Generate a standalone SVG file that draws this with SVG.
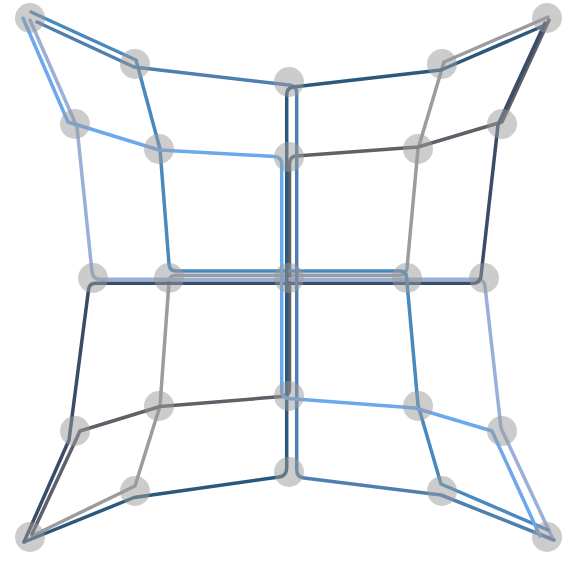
<svg xmlns="http://www.w3.org/2000/svg" width="563" height="561" viewBox="0 0 563 561">
<style>
.ln{fill:none;stroke-width:3.5;stroke-linejoin:round;stroke-linecap:round}
.nd{fill:#999;fill-opacity:0.5}
</style>
<rect width="563" height="561" fill="#fff"/>
<g id="connectors">
<path class="ln" stroke="#9a9ca1" d="M548,17 L444,62 L418,149 L407,268 Q406,275.3 399,275.3 L176,275.3 Q169.5,275.3 169,282 L160,406 L135,486 L32,536"/>
<path class="ln" stroke="#5f6068" d="M549,20 L502,122 L418,147 L296,156 Q290,156.5 289.5,163 L289.5,389 Q289.5,396 282,396.5 L160,406.5 L80,431 L32,534"/>
<path class="ln" stroke="#9ab0da" d="M30,20 L77,127 L92,272 Q93,279.3 100,279.3 L477,279.3 Q484,279.3 485,286 L501,428 L552,537"/>
<path class="ln" stroke="#394c68" d="M545,23 L498,125 L481,276 Q480,283.3 473,283.3 L96,283.3 Q89,283.3 88.5,290 L69,440 L24,542"/>
<path class="ln" stroke="#4889be" d="M31,12 L136,60 L160,149 L169,264 Q169.5,271 176,271 L400,271 Q406,271 406.5,277 L418,405 L441,484 L548,530"/>
<path class="ln" stroke="#4f7fb1" d="M37,22 L134,67 L289,85 Q296.7,86 296.7,93 L296.7,470 Q296.7,477 304,478 L441,495 L554,540"/>
<path class="ln" stroke="#2b587b" d="M543,26 L441,70 L293,87 Q286.7,88 286.7,95 L286.7,468 Q286.7,476 279,477 L134,497.5 L24,542"/>
<path class="ln" stroke="#6ca8ec" d="M23,18 L68,122 L159,150 L274,156.5 Q281.7,157 281.7,164 L281.7,391 Q281.7,398 289,398.5 L415,408 L492,431 L540,536"/>
</g>
<g id="n00"><circle class="nd" cx="30" cy="18" r="15"/></g>
<g id="n01"><circle class="nd" cx="135" cy="64" r="15"/></g>
<g id="n02"><circle class="nd" cx="289" cy="82" r="15"/></g>
<g id="n03"><circle class="nd" cx="442" cy="64" r="15"/></g>
<g id="n04"><circle class="nd" cx="547" cy="18" r="15"/></g>
<g id="n10"><circle class="nd" cx="75" cy="124" r="15"/></g>
<g id="n11"><circle class="nd" cx="159" cy="149" r="15"/></g>
<g id="n12"><circle class="nd" cx="289" cy="157" r="15"/></g>
<g id="n13"><circle class="nd" cx="418" cy="149" r="15"/></g>
<g id="n14"><circle class="nd" cx="502" cy="124" r="15"/></g>
<g id="n20"><circle class="nd" cx="93" cy="278" r="15"/></g>
<g id="n21"><circle class="nd" cx="169" cy="278" r="15"/></g>
<g id="n22"><circle class="nd" cx="289" cy="278" r="15"/></g>
<g id="n23"><circle class="nd" cx="407" cy="278" r="15"/></g>
<g id="n24"><circle class="nd" cx="484" cy="278" r="15"/></g>
<g id="n30"><circle class="nd" cx="75" cy="431" r="15"/></g>
<g id="n31"><circle class="nd" cx="159" cy="406" r="15"/></g>
<g id="n32"><circle class="nd" cx="289" cy="396" r="15"/></g>
<g id="n33"><circle class="nd" cx="418" cy="406" r="15"/></g>
<g id="n34"><circle class="nd" cx="502" cy="431" r="15"/></g>
<g id="n40"><circle class="nd" cx="30" cy="537" r="15"/></g>
<g id="n41"><circle class="nd" cx="135" cy="491" r="15"/></g>
<g id="n42"><circle class="nd" cx="289" cy="472" r="15"/></g>
<g id="n43"><circle class="nd" cx="442" cy="491" r="15"/></g>
<g id="n44"><circle class="nd" cx="547" cy="537" r="15"/></g>
</svg>
